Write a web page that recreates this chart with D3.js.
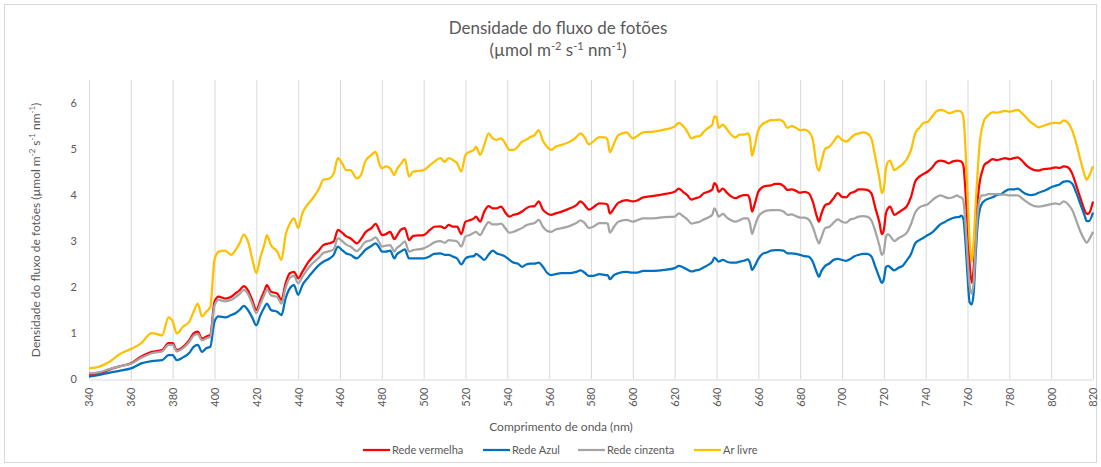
<!DOCTYPE html>
<html>
<head>
<meta charset="utf-8">
<script src="https://cdn.jsdelivr.net/npm/d3@7"></script>
<style>
  body { margin: 0; background: #fff; }
  text { font-family: Lato, "Open Sans", sans-serif; fill: #595959; }
</style>
</head>
<body>
<script>
'use strict';

// wavelengths (nm), shared by all series
const wavelengths = [
  340,345,350,355,360,365,370,375,378,380,382,385,388,390,392,394,396,398,
  400,402,405,408,410,412,414,416,418,420,422,424,425,427,430,432,434,436,438,
  440,442,445,447,450,452,455,457,459,461,463,465,468,470,472,475,477,479,
  480,482,484,486,487,489,491,493,495,500,503,505,508,510,512,514,516,518,
  520,522,524,525,527,529,531,533,535,537,539,541,543,545,547,549,551,553,555,557,559,
  561,563,566,570,573,575,577,579,581,584,587,588,589,591,593,597,600,602,605,610,615,
  620,622,624,626,628,630,632,634,636,638,639,640,641,643,645,647,649,651,653,655,656,657,658,
  660,662,664,666,668,670,672,674,676,678,680,682,684,686,688,689,690,692,694,696,698,
  700,702,704,706,708,710,712,714,716,718,719,720,721,722,723,725,727,729,731,733,735,737,739,
  741,743,745,747,749,751,753,755,
  756,757,758,759,760,761,762,763,764,765,766,767,768,
  770,772,774,776,778,780,782,784,786,788,790,792,794,796,798,800,802,804,806,808,810,812,814,816,
  817,818,820
];

const redeVermelha = [
  0.09,0.12,0.21,0.28,0.34,0.49,0.59,0.63,0.78,0.78,0.63,0.70,0.85,0.99,1.03,0.88,0.92,0.96,
  1.68,1.79,1.75,1.79,1.86,1.93,2.02,1.93,1.72,1.50,1.72,1.93,2.04,1.90,1.86,1.72,2.08,2.30,2.33,
  2.19,2.33,2.55,2.66,2.80,2.91,2.95,2.99,3.24,3.18,3.10,3.06,2.95,3.04,3.18,3.28,3.37,3.21,
  3.13,3.15,3.20,3.04,3.10,3.24,3.28,3.02,3.11,3.13,3.24,3.31,3.32,3.28,3.35,3.31,3.31,3.15,
  3.42,3.45,3.49,3.53,3.42,3.64,3.76,3.71,3.71,3.75,3.62,3.53,3.57,3.59,3.64,3.71,3.75,3.76,3.86,3.68,3.60,
  3.57,3.60,3.64,3.71,3.78,3.86,3.78,3.68,3.73,3.82,3.81,3.78,3.60,3.71,3.83,3.89,3.86,3.88,3.95,3.98,4.02,
  4.07,4.14,4.07,4.00,3.90,3.93,3.96,4.04,4.07,4.12,4.26,4.21,4.07,4.14,4.05,3.97,3.93,3.97,4.00,4.00,3.89,3.64,3.76,
  4.07,4.17,4.20,4.21,4.24,4.24,4.20,4.11,4.12,4.09,4.05,4.07,4.04,3.86,3.53,3.42,3.57,3.78,3.82,3.93,4.04,
  3.96,3.95,4.04,4.07,4.12,4.12,4.11,4.04,3.71,3.38,3.15,3.24,3.60,3.71,3.75,3.57,3.62,3.68,3.76,3.96,4.29,4.40,4.46,
  4.51,4.59,4.71,4.75,4.73,4.69,4.73,4.75,
  4.74,4.73,4.65,4.11,3.38,2.51,2.09,2.44,3.31,3.96,4.33,4.51,4.65,
  4.72,4.78,4.76,4.78,4.80,4.78,4.80,4.82,4.75,4.65,4.58,4.54,4.53,4.56,4.57,4.58,4.60,4.59,4.62,4.60,4.47,4.21,3.93,3.67,
  3.59,3.60,3.86
];

const redeAzul = [
  0.05,0.09,0.14,0.18,0.23,0.34,0.39,0.41,0.52,0.52,0.41,0.47,0.57,0.70,0.74,0.59,0.67,0.70,
  1.25,1.36,1.34,1.39,1.43,1.50,1.59,1.50,1.34,1.17,1.39,1.57,1.64,1.50,1.46,1.39,1.75,1.97,2.04,
  1.83,2.04,2.22,2.33,2.48,2.55,2.62,2.70,2.88,2.80,2.73,2.70,2.62,2.70,2.80,2.89,2.95,2.84,
  2.77,2.77,2.79,2.62,2.70,2.77,2.82,2.62,2.62,2.62,2.67,2.72,2.73,2.70,2.70,2.66,2.62,2.49,
  2.62,2.66,2.67,2.72,2.66,2.59,2.70,2.79,2.73,2.70,2.66,2.59,2.53,2.51,2.44,2.49,2.51,2.51,2.53,2.44,2.31,
  2.26,2.28,2.30,2.30,2.33,2.36,2.31,2.24,2.24,2.28,2.26,2.26,2.17,2.26,2.30,2.33,2.31,2.31,2.35,2.35,2.37,
  2.41,2.46,2.43,2.38,2.34,2.36,2.38,2.43,2.48,2.55,2.64,2.60,2.55,2.59,2.55,2.53,2.53,2.55,2.57,2.60,2.53,2.37,2.43,
  2.61,2.72,2.75,2.79,2.80,2.80,2.79,2.73,2.73,2.72,2.70,2.67,2.66,2.55,2.31,2.22,2.33,2.46,2.51,2.59,2.61,
  2.59,2.57,2.61,2.67,2.70,2.72,2.72,2.67,2.43,2.19,2.09,2.17,2.43,2.46,2.43,2.36,2.42,2.46,2.58,2.72,2.95,3.02,3.07,
  3.13,3.18,3.27,3.36,3.41,3.46,3.50,3.52,
  3.52,3.55,3.49,2.99,2.26,1.67,1.62,1.90,2.77,3.43,3.71,3.82,3.87,
  3.92,3.95,4.00,4.02,4.08,4.12,4.12,4.14,4.08,4.02,4.00,4.01,4.05,4.08,4.12,4.17,4.20,4.23,4.29,4.30,4.25,4.05,3.80,3.55,
  3.43,3.43,3.62
];

const redeCinzenta = [
  0.12,0.15,0.22,0.28,0.33,0.46,0.56,0.60,0.74,0.74,0.60,0.67,0.81,0.94,0.98,0.84,0.88,0.92,
  1.60,1.72,1.69,1.72,1.78,1.85,1.94,1.85,1.64,1.43,1.64,1.85,1.95,1.82,1.78,1.64,1.98,2.20,2.24,
  2.08,2.22,2.42,2.52,2.64,2.74,2.78,2.82,3.06,3.00,2.92,2.88,2.78,2.86,2.98,3.02,3.08,2.95,
  2.88,2.90,2.91,2.77,2.84,2.91,2.99,2.77,2.80,2.84,2.91,2.97,3.00,2.96,3.02,3.01,2.99,2.88,
  3.10,3.13,3.18,3.20,3.13,3.28,3.41,3.36,3.36,3.38,3.28,3.18,3.20,3.24,3.28,3.34,3.37,3.39,3.46,3.31,3.22,
  3.20,3.25,3.28,3.33,3.39,3.45,3.39,3.28,3.31,3.39,3.39,3.38,3.18,3.31,3.42,3.46,3.42,3.45,3.49,3.49,3.52,
  3.53,3.60,3.54,3.47,3.38,3.40,3.42,3.47,3.51,3.57,3.71,3.64,3.53,3.59,3.51,3.45,3.42,3.45,3.49,3.49,3.38,3.15,3.28,
  3.53,3.62,3.66,3.67,3.67,3.67,3.64,3.57,3.58,3.54,3.51,3.51,3.47,3.31,3.04,2.95,3.06,3.28,3.31,3.40,3.47,
  3.42,3.40,3.47,3.49,3.53,3.54,3.53,3.45,3.20,2.88,2.70,2.77,3.08,3.15,3.11,3.00,3.06,3.11,3.18,3.37,3.62,3.73,3.77,
  3.80,3.88,3.95,3.99,3.96,3.93,3.95,3.99,
  3.96,3.95,3.88,3.38,2.65,2.04,1.85,2.15,3.02,3.67,3.93,3.99,3.99,
  4.02,4.02,4.02,4.01,4.01,3.99,3.99,3.99,3.93,3.86,3.80,3.76,3.75,3.76,3.78,3.80,3.82,3.80,3.86,3.80,3.68,3.45,3.20,3.02,
  2.96,3.02,3.20
];

const arLivre = [
  0.23,0.27,0.38,0.55,0.65,0.78,1.00,0.95,1.34,1.25,0.99,1.14,1.25,1.46,1.64,1.36,1.46,1.57,
  2.59,2.77,2.79,2.70,2.80,2.95,3.14,2.99,2.62,2.30,2.66,2.95,3.13,2.91,2.77,2.59,3.13,3.38,3.49,
  3.28,3.60,3.82,3.93,4.14,4.33,4.36,4.47,4.80,4.69,4.54,4.54,4.36,4.43,4.72,4.87,4.94,4.65,
  4.58,4.62,4.58,4.43,4.54,4.67,4.78,4.40,4.51,4.54,4.65,4.72,4.80,4.72,4.80,4.76,4.69,4.51,
  4.87,4.94,4.98,5.05,4.87,5.09,5.34,5.23,5.20,5.23,5.12,4.98,4.98,5.05,5.16,5.20,5.26,5.30,5.41,5.18,5.05,
  4.98,5.05,5.09,5.16,5.26,5.34,5.25,5.10,5.16,5.26,5.25,5.18,4.93,5.12,5.30,5.36,5.23,5.28,5.36,5.38,5.42,
  5.49,5.57,5.50,5.38,5.23,5.27,5.28,5.38,5.46,5.53,5.71,5.70,5.46,5.53,5.43,5.31,5.25,5.31,5.31,5.34,5.23,4.85,5.01,
  5.41,5.54,5.59,5.63,5.63,5.64,5.59,5.46,5.50,5.46,5.41,5.42,5.38,5.20,4.62,4.53,4.69,5.01,5.05,5.16,5.28,
  5.20,5.16,5.23,5.31,5.34,5.36,5.34,5.23,4.80,4.33,4.04,4.14,4.57,4.72,4.75,4.54,4.60,4.67,4.78,4.98,5.34,5.46,5.57,
  5.59,5.70,5.81,5.85,5.83,5.78,5.80,5.83,
  5.83,5.81,5.70,5.05,4.04,3.02,2.55,3.02,3.89,4.62,5.20,5.46,5.63,
  5.74,5.80,5.79,5.81,5.83,5.81,5.83,5.85,5.78,5.69,5.59,5.53,5.47,5.50,5.53,5.56,5.57,5.56,5.62,5.57,5.41,5.12,4.76,4.43,
  4.33,4.40,4.63
];

const seriesNames = ['Rede vermelha', 'Rede Azul', 'Rede cinzenta', 'Ar livre'];
const seriesValues = [redeVermelha, redeAzul, redeCinzenta, arLivre];
const seriesColors = ['#ff0000', '#0070c0', '#a5a5a5', '#ffc000'];
const xTicks = d3.range(340, 821, 20);
const yTicks = [0, 1, 2, 3, 4, 5, 6];

(function() {
  const width = 1101, height = 467;
  const svg = d3.select('body').append('svg')
    .attr('width', width)
    .attr('height', height);

  svg.append('rect')
    .attr('x', 0).attr('y', 0)
    .attr('width', width).attr('height', height)
    .attr('fill', '#fff');

  // outer chart border
  svg.append('rect')
    .attr('x', 4.5).attr('y', 4.5)
    .attr('width', 1092).attr('height', 458)
    .attr('fill', 'none')
    .attr('stroke', '#d9d9d9');

  const xScale = d3.scaleLinear().domain([340, 820]).range([89, 1093]);
  const yScale = d3.scaleLinear().domain([0, 6.5]).range([379, 80]);

  // title
  const title = svg.append('text')
    .attr('x', 558)
    .attr('text-anchor', 'middle')
    .style('font-size', '17px');
  title.append('tspan').attr('x', 558).attr('y', 34).text('Densidade do fluxo de fotões');
  const t2 = title.append('tspan').attr('x', 558).attr('y', 56);
  unitText(t2);

  // vertical gridlines
  svg.append('g')
    .selectAll('line')
    .data(xTicks)
    .enter()
    .append('line')
      .attr('x1', (d) => xScale(d) + 0.5)
      .attr('x2', (d) => xScale(d) + 0.5)
      .attr('y1', yScale(6.5))
      .attr('y2', yScale(0))
      .attr('stroke', '#d9d9d9')
      .attr('stroke-width', 1);

  // x axis
  const xAxis = d3.axisBottom(xScale).tickValues(xTicks).tickSize(0).tickPadding(8);
  const gx = svg.append('g')
    .attr('transform', 'translate(0,' + (yScale(0) + 0.5) + ')')
    .call(xAxis);
  gx.select('.domain').attr('stroke', '#d9d9d9');
  gx.selectAll('text')
    .attr('transform', 'rotate(-90)')
    .attr('x', -8)
    .attr('y', 0)
    .attr('dy', '0.35em')
    .attr('text-anchor', 'end')
    .style('font-size', '11px')
    .attr('fill', '#595959')
    .style('font-family', 'Lato, sans-serif');

  // y axis
  const yAxis = d3.axisLeft(yScale).tickValues(yTicks).tickFormat(d3.format('d'))
    .tickSize(0).tickPadding(12);
  const gy = svg.append('g')
    .attr('transform', 'translate(' + xScale(340) + ',0)')
    .call(yAxis);
  gy.select('.domain').remove();
  gy.selectAll('text')
    .style('font-size', '11px')
    .attr('fill', '#595959')
    .style('font-family', 'Lato, sans-serif');

  // axis titles
  svg.append('text')
    .attr('x', 561)
    .attr('y', 431)
    .attr('text-anchor', 'middle')
    .style('font-size', '12px')
    .text('Comprimento de onda (nm)');

  const yt = svg.append('text')
    .attr('transform', 'translate(40,230)rotate(-90)')
    .attr('text-anchor', 'middle')
    .style('font-size', '12px');
  yt.append('tspan').text('Densidade do fluxo de fotões ');
  unitText(yt);

  // lines
  const line = d3.line()
    .x((d) => xScale(d[0]))
    .y((d) => yScale(d[1]))
    .curve(d3.curveMonotoneX);

  seriesValues.forEach(function(vals, i) {
    const pts = wavelengths.map((w, j) => [w, vals[j]]);
    svg.append('path')
      .datum(pts)
      .attr('d', line)
      .attr('fill', 'none')
      .attr('stroke', seriesColors[i])
      .attr('stroke-width', 2.25)
      .attr('stroke-linejoin', 'round');
  });

  // legend
  const legendX = [363, 483, 578, 694];
  const legend = svg.append('g');
  seriesNames.forEach(function(name, i) {
    legend.append('line')
      .attr('x1', legendX[i]).attr('x2', legendX[i] + 27)
      .attr('y1', 450).attr('y2', 450)
      .attr('stroke', seriesColors[i])
      .attr('stroke-width', 2.25);
    legend.append('text')
      .attr('x', legendX[i] + 29)
      .attr('y', 454)
      .style('font-size', '11px')
      .text(name);
  });

  // "(µmol m-2 s-1 nm-1)" with superscripts
  function unitText(sel) {
    const parts = [['(µmol m', '-2'], [' s', '-1'], [' nm', '-1'], [')', null]];
    parts.forEach(function(p) {
      sel.append('tspan').text(p[0]);
      if (p[1]) {
        sel.append('tspan')
          .attr('baseline-shift', 'super')
          .style('font-size', '65%')
          .text(p[1]);
      }
    });
  }
})();
</script>
</body>
</html>
